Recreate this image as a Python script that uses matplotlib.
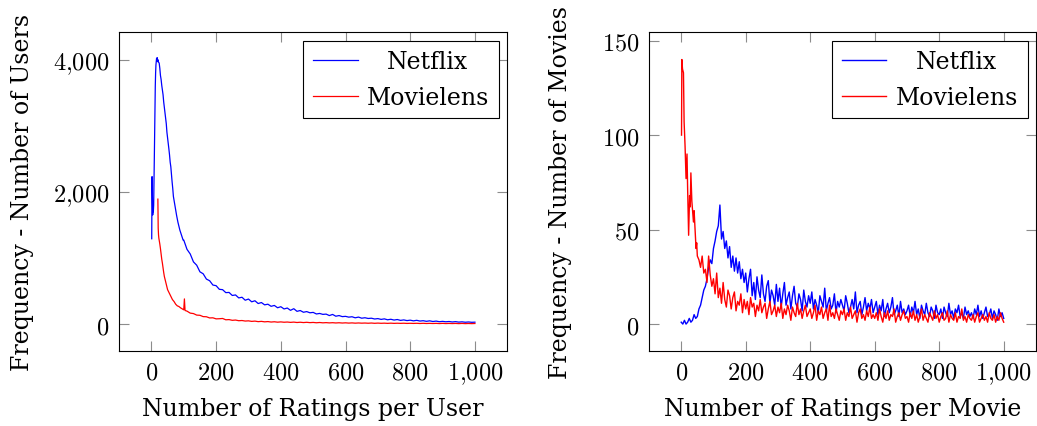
import matplotlib
matplotlib.use("Agg")
import matplotlib.pyplot as plt
from matplotlib.ticker import FuncFormatter, MultipleLocator

# ========== 字体 ==========
plt.rcParams['mathtext.fontset'] = 'cm'
plt.rcParams['font.family'] = ['DejaVu Serif']

# ========== 数据：每用户评分数 ==========
netflix_user_x = list(range(1, 21)) + list(range(22, 100, 2)) + list(range(100, 1001, 10))
netflix_user_y = [
    1290, 2230, 1900, 1650, 1720, 1700, 1800, 2100, 2500, 2900,
    3300, 3600, 3800, 3920, 3980, 4020, 3990, 4030, 3970, 4000,
    3960, 3950, 3870, 3760, 3700, 3610, 3540, 3470, 3360, 3280,
    3210, 3120, 3030, 2900, 2820, 2740, 2650, 2560, 2450, 2380,
    2260, 2150, 2050, 1930, 1870, 1800, 1740, 1690, 1640, 1590,
    1540, 1500, 1460, 1420, 1390, 1360, 1330, 1300, 1270,
    1270, 1130, 1060, 940, 890, 790, 760, 680, 655, 590,
    580, 525, 520, 475, 478, 432, 440, 395, 405, 360,
    378, 336, 352, 310, 325, 290, 300, 268, 281, 246,
    262, 228, 242, 207, 232, 192, 204, 178, 188, 170,
    176, 152, 160, 146, 150, 128, 145, 118, 128, 112,
    116, 104, 110, 94, 105, 88, 95, 84, 88, 76,
    82, 70, 78, 64, 72, 60, 68, 55, 62, 52,
    58, 48, 56, 45, 50, 41, 48, 38, 44, 35,
    40, 34, 38, 31, 36, 29, 33, 27, 31, 26,
    28,
]

movielens_user_x = [20, 21, 22, 23, 24, 25, 26, 28, 30, 32, 34, 36, 38, 40, 42, 44, 46, 48,
                    50, 55, 60, 65, 70, 75, 80, 85, 90, 95, 100, 102, 104] + list(range(110, 1001, 10))
movielens_user_y = [
    1890, 1450, 1350, 1300, 1270, 1240, 1210, 1140, 1060, 980,
    920, 850, 780, 720, 680, 640, 600, 560, 520, 470,
    420, 370, 340, 300, 275, 265, 245, 230, 215, 380, 205,
    195, 165, 158, 135, 132, 112, 110, 92, 94,
    78, 80, 84, 64, 67, 56, 60, 50, 53, 45,
    48, 40, 44, 36, 40, 33, 37, 30, 34, 28,
    32, 27, 30, 25, 29, 23, 27, 22, 26, 21,
    24, 19, 23, 18, 21, 17, 20, 16, 19, 15,
    18, 14, 17, 13, 16, 13, 15, 12, 15, 11,
    14, 11, 13, 10, 13, 10, 12, 10, 12, 9,
    11, 9, 11, 8, 11, 8, 10, 8, 10, 7,
    10, 7, 9, 7, 9, 6, 9, 6, 8, 6,
    8,
]

# ========== 数据：每部电影评分数 ==========
netflix_movie_x = list(range(0, 1001, 5))
netflix_movie_y = [
    1, 0, 2, 0, 1, 3, 1, 2, 5, 3, 4, 8, 10, 14, 18, 20, 24, 30, 34, 32,
    40, 44, 49, 52, 63, 45, 49, 40, 44, 35, 41, 30, 36, 28, 35, 27, 33, 24, 29, 22,
    27, 17, 24, 29, 15, 22, 13, 25, 18, 14, 26, 16, 12, 20, 23, 11, 18, 15, 10, 21,
    12, 19, 9, 16, 22, 10, 14, 17, 8, 15, 20, 11, 9, 16, 13, 7, 18, 12, 9, 15,
    11, 17, 8, 13, 10, 6, 15, 12, 9, 19, 7, 11, 14, 8, 10, 16, 6, 12, 9, 13,
    10, 7, 15, 11, 6, 9, 13, 8, 17, 6, 10, 12, 5, 9, 14, 7, 11, 8, 13, 6,
    9, 12, 5, 10, 7, 13, 4, 8, 11, 6, 9, 14, 5, 7, 10, 4, 12, 6, 8, 5,
    7, 10, 4, 9, 6, 12, 5, 8, 3, 10, 7, 5, 11, 6, 4, 9, 7, 3, 10, 6,
    5, 8, 3, 9, 6, 4, 11, 5, 7, 3, 8, 6, 10, 4, 6, 3, 9, 5, 7, 4,
    6, 3, 8, 5, 10, 4, 7, 3, 6, 9, 4, 5, 8, 3, 7, 5, 2, 8, 4, 6,
    3,
]

movielens_movie_x = [1, 2, 4, 7, 9, 12, 15, 18, 20, 23, 26, 28, 30, 33, 36, 38, 40, 43, 46, 48] \
    + list(range(50, 1001, 5))
movielens_movie_y = [
    100, 140, 135, 133, 107, 94, 77, 90, 71, 47, 68, 62, 80, 65, 58, 54, 60, 50, 40, 43,
    36, 34, 30, 36, 27, 29, 22, 36, 26, 20,
    24, 16, 27, 14, 19, 11, 22, 13, 9, 18, 15, 8, 14, 17, 7, 12, 10, 16, 6, 13,
    8, 12, 5, 14, 9, 11, 4, 10, 7, 13, 6, 9, 11, 3, 8, 12, 5, 7, 10, 4,
    9, 6, 11, 3, 8, 5, 10, 7, 2, 9, 6, 4, 11, 5, 8, 3, 7, 10, 4, 6,
    8, 3, 6, 10, 2, 7, 5, 9, 3, 6, 8, 2, 10, 4, 6, 3, 8, 5, 2, 7,
    5, 8, 2, 6, 4, 9, 3, 5, 7, 1, 6, 8, 3, 5, 2, 7, 4, 9, 3, 5,
    3, 6, 2, 8, 4, 1, 6, 3, 7, 2, 5, 4, 8, 1, 4, 6, 2, 5, 7, 3,
    4, 1, 6, 3, 7, 2, 5, 1, 4, 8, 2, 5, 3, 1, 6, 4, 2, 7, 3, 5,
    1, 4, 6, 2, 3, 7, 1, 5, 3, 2, 6, 1, 4, 3, 8, 2, 4, 1, 5, 3,
    2, 5, 1, 4, 6, 1, 3, 5, 2, 4, 1, 6, 3, 2, 5, 1, 4, 2, 6, 3,
    1,
]

series_labels = ["Netflix", "Movielens"]
x_labels = ["Number of Ratings per User", "Number of Ratings per Movie"]
y_labels = ["Frequency - Number of Users", "Frequency - Number of Movies"]


def tex_num(v, pos):
    s = f"{v:,.0f}".replace(",", "{,}")
    return f"${s}$"


fig = plt.figure(figsize=(10.37, 4.27), dpi=100)
ax1 = fig.add_axes([0.1148, 0.1763, 0.3744, 0.7457])
ax2 = fig.add_axes([0.6258, 0.1763, 0.3732, 0.7457])

ax1.plot(netflix_user_x, netflix_user_y, color="blue", lw=0.9, label=series_labels[0])
ax1.plot(movielens_user_x, movielens_user_y, color="red", lw=0.9, label=series_labels[1])
ax2.plot(netflix_movie_x, netflix_movie_y, color="blue", lw=1.0, label=series_labels[0])
ax2.plot(movielens_movie_x, movielens_movie_y, color="red", lw=1.0, label=series_labels[1])

ax1.set_ylim(-404, 4414)
ax1.yaxis.set_major_locator(MultipleLocator(2000))
ax2.set_ylim(-14.1, 154.4)
ax2.yaxis.set_major_locator(MultipleLocator(50))

ylab_x = [-0.219, -0.199]
for i, ax in enumerate([ax1, ax2]):
    ax.set_xlim(-100, 1100)
    ax.xaxis.set_major_locator(MultipleLocator(200))
    ax.xaxis.set_major_formatter(FuncFormatter(tex_num))
    ax.yaxis.set_major_formatter(FuncFormatter(tex_num))
    ax.tick_params(direction="in", length=7.5, width=0.8, color="0.55",
                   top=True, right=True, labelsize=17.5, pad=7)
    for sp in ax.spines.values():
        sp.set_linewidth(0.8)
    ax.set_xlabel(x_labels[i], fontsize=17)
    ax.set_ylabel(y_labels[i], fontsize=17)
    ax.xaxis.set_label_coords(0.5, -0.145)
    ax.yaxis.set_label_coords(ylab_x[i], 0.5)
    leg = ax.legend(loc="upper right", fontsize=17, frameon=True, fancybox=False,
                    edgecolor="black", framealpha=1, handlelength=1.9,
                    borderaxespad=0.35, borderpad=0.4, labelspacing=0.55,
                    handletextpad=0.4)
    leg.get_frame().set_linewidth(0.8)
    leg.get_texts()[0].set_x(20)

fig.savefig("out.png", dpi=100)
